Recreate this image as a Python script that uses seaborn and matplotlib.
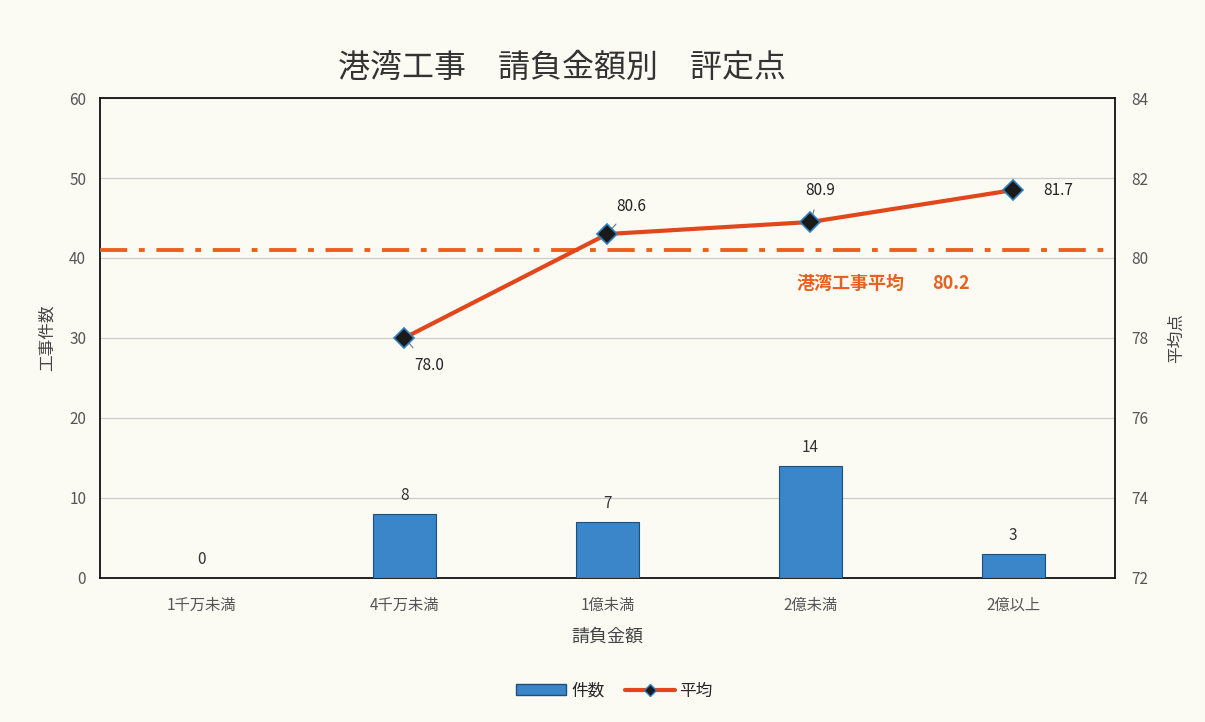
import numpy as np
import pandas as pd
import matplotlib.pyplot as plt
import seaborn as sns
from matplotlib.patches import Patch
from matplotlib.lines import Line2D

categories = ['1千万未満', '4千万未満', '1億未満', '2億未満', '2億以上']
counts = [0, 8, 7, 14, 3]
avg_scores = [np.nan, 78.0, 80.6, 80.9, 81.7]
overall_avg = 80.2

sns.set_theme(style='white')
plt.rcParams['font.family'] = ['Noto Sans CJK JP', 'DejaVu Sans']

bg = '#fbfbf4'
bar_color = '#3a86c8'
line_color = '#e2471c'
ref_color = '#e8611e'

df = pd.DataFrame({'cat': categories, 'count': counts,
                   'score': avg_scores, 'pos': range(len(categories))})

fig = plt.figure(figsize=(12.05, 7.22), dpi=100, facecolor=bg)
ax = fig.add_axes([0.083, 0.2, 0.842, 0.664])
ax.set_facecolor(bg)

sns.barplot(data=df, x='cat', y='count', color=bar_color, width=0.31,
            edgecolor='#1d4f7c', linewidth=0.8, saturation=1, ax=ax, zorder=3)
ax.set_ylim(0, 60)
ax.set_yticks(range(0, 61, 10))
ax.grid(axis='y', color='#cccccc', linewidth=0.9, zorder=0)
ax.set_xlim(-0.5, len(categories) - 0.5)
for i, v in enumerate(counts):
    ax.text(i, v + 1.2, str(v), ha='center', va='bottom', fontsize=11, color='#333333')

ax.set_xlabel('請負金額', fontsize=13, color='#444444', labelpad=10)
ax.set_ylabel('工事件数', fontsize=12, color='#444444', labelpad=10)
ax.tick_params(axis='both', length=0, labelsize=11, labelcolor='#555555', pad=10)
ax.tick_params(axis='x', pad=14)
for s in ax.spines.values():
    s.set_color('#111111')
    s.set_linewidth(1.3)

ax2 = ax.twinx()
sns.lineplot(data=df.dropna(), x='pos', y='score', color=line_color, linewidth=3,
             marker='D', markersize=10, markerfacecolor='#1a1a1a',
             markeredgecolor='#2f7fc0', markeredgewidth=1.2, ax=ax2, zorder=5,
             legend=False)
ax2.set_ylim(72, 84)
ax2.set_yticks(range(72, 85, 2))
ax2.axhline(overall_avg, color=ref_color, linewidth=2.8, linestyle=(0, (7, 3, 1.5, 3)), zorder=4)
ax2.set_ylabel('平均点', fontsize=12, color='#444444', rotation=90, labelpad=14)
ax2.set_xlabel('')
ax2.tick_params(axis='y', length=0, labelsize=11, labelcolor='#555555', pad=12)
for s in ax2.spines.values():
    s.set_visible(False)

offsets = {1: (0.12, -0.7), 2: (0.12, 0.7), 3: (0.05, 0.8), 4: (0.15, 0.0)}
for i, v in enumerate(avg_scores):
    if np.isnan(v):
        continue
    dx, dy = offsets[i]
    if i == 4:
        ax2.text(i + dx, v, f'{v:.1f}', ha='left', va='center', fontsize=11, color='#222222')
    else:
        ax2.annotate(f'{v:.1f}', xy=(i, v), xytext=(i + dx, v + dy), ha='center',
                     va='center', fontsize=11, color='#222222',
                     arrowprops=dict(arrowstyle='-', color='#777777', lw=0.8, shrinkA=6, shrinkB=4))

ax2.text(2.93, overall_avg - 0.6, '港湾工事平均', color=ref_color, fontsize=13,
         ha='left', va='top', fontweight='bold')
ax2.text(3.6, overall_avg - 0.6, f'{overall_avg}', color=ref_color, fontsize=13,
         ha='left', va='top', fontweight='bold')

fig.text(0.466, 0.906, '港湾工事　請負金額別　評定点', ha='center', va='center',
         fontsize=23, color='#333333')

handles = [Patch(facecolor=bar_color, edgecolor='#1d4f7c', label='件数'),
           Line2D([], [], color=line_color, lw=3, marker='D', markersize=6,
                  markerfacecolor='#1a1a1a', markeredgecolor='#2f7fc0', label='平均')]
fig.legend(handles=handles, loc='center', bbox_to_anchor=(0.51, 0.043), ncol=2,
           frameon=False, fontsize=12, handlelength=3, columnspacing=1.2, handletextpad=0.3)

fig.savefig('out.png', dpi=100, facecolor=bg)
